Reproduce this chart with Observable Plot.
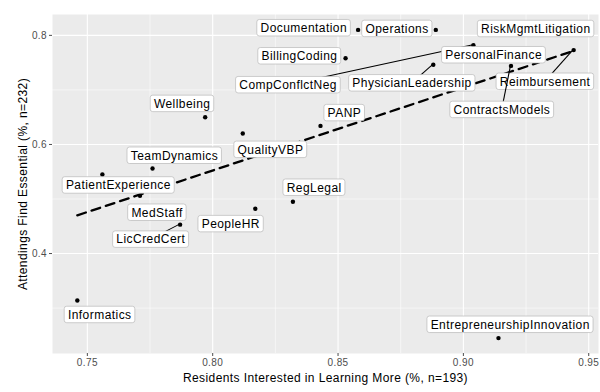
<!DOCTYPE html>
<html>
<head>
<meta charset="utf-8">
<script src="https://cdn.jsdelivr.net/npm/d3@7"></script>
<script src="https://cdn.jsdelivr.net/npm/@observablehq/plot@0.6"></script>
<style>
  body { margin: 0; background: #fff; }
  #chart svg text { letter-spacing: 0.4px; }
</style>
</head>
<body>
<div id="chart"></div>
<script>
// ---- data ----
const categories = [
  "Informatics", "PatientExperience", "MedStaff", "TeamDynamics", "LicCredCert",
  "Wellbeing", "QualityVBP", "PeopleHR", "RegLegal", "PANP",
  "Documentation", "Operations", "BillingCoding", "PhysicianLeadership", "Reimbursement",
  "ContractsModels", "EntrepreneurshipInnovation", "CompConflctNeg", "PersonalFinance", "RiskMgmtLitigation"
];
const residents = [
  0.746, 0.756, 0.771, 0.776, 0.787,
  0.797, 0.812, 0.817, 0.832, 0.843,
  0.858, 0.889, 0.853, 0.888, 0.944,
  0.919, 0.914, 0.904, 0.911, 0.931
];
const attendings = [
  0.314, 0.545, 0.506, 0.556, 0.453,
  0.650, 0.620, 0.482, 0.495, 0.634,
  0.810, 0.810, 0.758, 0.746, 0.773,
  0.744, 0.245, 0.782, 0.759, 0.808
];
const xTicks = [0.75, 0.80, 0.85, 0.90, 0.95];
const yTicks = [0.4, 0.6, 0.8];
const xMinor = [0.775, 0.825, 0.875, 0.925];
const yMinor = [0.3, 0.5, 0.7];
const xTitle = "Residents Interested in Learning More (%, n=193)";
const yTitle = "Attendings Find Essential (%, n=232)";

// ---- label layout (repelled label offsets in px, relative to the point) ----
const labelDx = [
  22.7, 16.3, 17.4, 22.2, -29,
  -22.7, 28, -24.2, 21.5, 24.2,
  -54, -38.5, -45.8, -21, -28.3,
  -8.8, 12, -185, 3, -5
];
const labelDy = [
  14.5, 11, 17, -12.7, 15,
  -13.3, 16.3, 15.3, -14, -12.8,
  -1.7, -1, -2, 18.5, 31.7,
  44, -13.3, 40, -2.5, -2
];
const leaderLabels = ["CompConflctNeg", "PhysicianLeadership", "Reimbursement", "ContractsModels", "LicCredCert"];

const data = categories.map((c, i) => ({
  category: c, x: residents[i], y: attendings[i], dx: labelDx[i], dy: labelDy[i]
}));

function expand(vals) {
  const [a, b] = d3.extent(vals);
  const p = (b - a) * 0.05;
  return [a - p, b + p];
}

const FONT = "'Liberation Sans', Arial, Helvetica, sans-serif";
const ctx = document.createElement("canvas").getContext("2d");
ctx.font = `12px ${FONT}`;
const LS = 0.45;
function textWidth(s) { return ctx.measureText(s).width + LS * s.length; }

function labelMark(index, scales) {
  const g = d3.create("svg:g").attr("aria-label", "repel-labels");
  for (const d of data) {
    const px = scales.x(d.x), py = scales.y(d.y);
    const cx = px + d.dx, cy = py + d.dy;
    const w = textWidth(d.category) + 7, h = 16.5;
    if (leaderLabels.includes(d.category)) {
      g.append("line")
        .attr("x1", px).attr("y1", py).attr("x2", cx).attr("y2", cy)
        .attr("stroke", "black").attr("stroke-width", 1.1);
    }
    g.append("rect")
      .attr("x", cx - w / 2).attr("y", cy - h / 2)
      .attr("width", w).attr("height", h).attr("rx", 2.5)
      .attr("fill", "white").attr("stroke", "#b8b8b8").attr("stroke-width", 0.7);
    g.append("text")
      .attr("x", cx + LS / 2).attr("y", cy + 4.3)
      .attr("text-anchor", "middle")
      .attr("font-size", 12)
      .attr("fill", "black")
      .style("letter-spacing", LS + "px")
      .text(d.category);
  }
  return g.node();
}

const plot = Plot.plot({
  width: 600,
  height: 392,
  marginLeft: 52,
  marginRight: 2,
  marginTop: 14,
  marginBottom: 39,
  style: { fontFamily: FONT, fontSize: "10px", background: "white", color: "black", overflow: "visible" },
  x: { domain: expand(residents), label: null },
  y: { domain: expand(attendings), label: null },
  marks: [
    Plot.frame({ fill: "#ebebeb", stroke: "none" }),
    Plot.ruleX(xMinor, { stroke: "white", strokeWidth: 0.55 }),
    Plot.ruleY(yMinor, { stroke: "white", strokeWidth: 0.55 }),
    Plot.ruleX(xTicks, { stroke: "white", strokeWidth: 1.1 }),
    Plot.ruleY(yTicks, { stroke: "white", strokeWidth: 1.1 }),
    Plot.axisX({ ticks: xTicks, tickFormat: d3.format(".2f"), tickSize: 3, tickPadding: 2.5, color: "#4d4d4d", fontSize: 10, label: null }),
    Plot.axisY({ ticks: yTicks, tickFormat: d3.format(".1f"), tickSize: 3, tickPadding: 2.5, color: "#4d4d4d", fontSize: 10, label: null }),
    Plot.dot(data, { x: "x", y: "y", r: 2.2, fill: "black", stroke: "none" }),
    Plot.linearRegressionY(data, { x: "x", y: "y", stroke: "black", strokeWidth: 2.3, strokeDasharray: "9,6", ci: 0 }),
    labelMark,
    Plot.text([xTitle], { text: d => d, frameAnchor: "bottom", dy: 24.7, lineAnchor: "middle", textAnchor: "middle", fontSize: 12, fill: "black" }),
    Plot.text([yTitle], { text: d => d, frameAnchor: "left", dx: -29.5, rotate: -90, lineAnchor: "middle", textAnchor: "middle", fontSize: 12, fill: "black" })
  ]
});
document.getElementById("chart").appendChild(plot);
</script>
</body>
</html>
